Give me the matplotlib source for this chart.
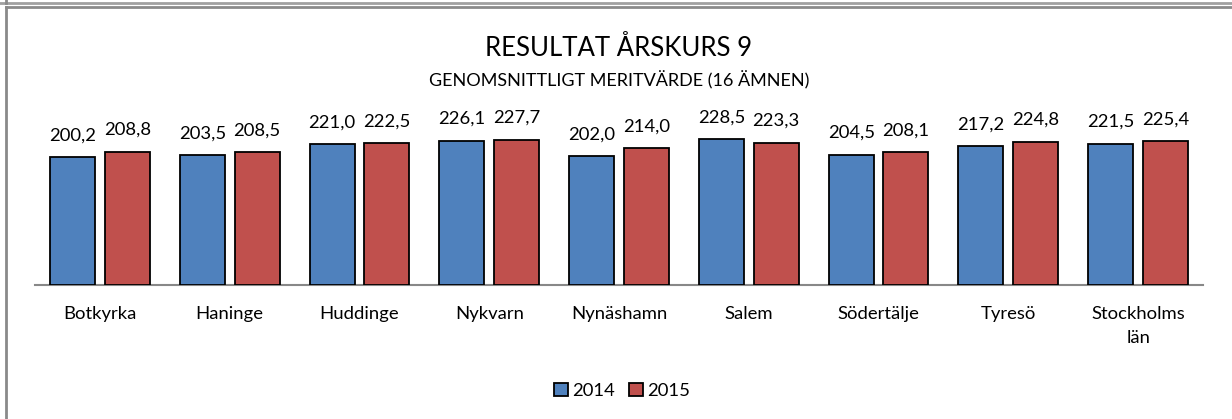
import matplotlib
matplotlib.use("Agg")
import matplotlib.pyplot as plt
from matplotlib.lines import Line2D
from matplotlib.patches import Patch
import numpy as np

categories = ["Botkyrka", "Haninge", "Huddinge", "Nykvarn", "Nynäshamn",
              "Salem", "Södertälje", "Tyresö", "Stockholms\nlän"]
values_2014 = [200.2, 203.5, 221.0, 226.1, 202.0, 228.5, 204.5, 217.2, 221.5]
values_2015 = [208.8, 208.5, 222.5, 227.7, 214.0, 223.3, 208.1, 224.8, 225.4]
series_names = ["2014", "2015"]
title = "RESULTAT ÅRSKURS 9"
subtitle = "GENOMSNITTLIGT MERITVÄRDE (16 ÄMNEN)"

plt.rcParams['font.family'] = ['Lato', 'DejaVu Sans']

W, H = 1232, 419
fig = plt.figure(figsize=(W / 100, H / 100), dpi=100)
fig.patch.set_facecolor("white")

def fx(px):
    return px / W

def fy(py):
    return 1 - py / H

ax_left, ax_right, ax_top, ax_bottom = 35, 1203, 125.5, 285
ax = fig.add_axes([fx(ax_left), fy(ax_bottom), fx(ax_right - ax_left),
                   (ax_bottom - ax_top) / H])

x = np.arange(len(categories)) + 0.5
bw = 0.346
off = 0.211
c1, c2 = "#4F81BD", "#C0504D"
b1 = ax.bar(x - off, values_2014, bw, color=c1, edgecolor="black", linewidth=1.3, zorder=3)
b2 = ax.bar(x + off, values_2015, bw, color=c2, edgecolor="black", linewidth=1.3, zorder=3)

def fmt(v):
    return f"{v:.1f}".replace(".", ",")

for bars, vals in ((b1, values_2014), (b2, values_2015)):
    for r, v in zip(bars, vals):
        ax.annotate(fmt(v), (r.get_x() + r.get_width() / 2, v),
                    xytext=(0, 12), textcoords="offset points",
                    ha="center", va="baseline", fontsize=13.3, color="black")

ax.set_xlim(0, len(categories))
ax.set_ylim(0, 250)
ax.set_yticks([])
ax.set_xticks(x)
ax.set_xticklabels(categories, fontsize=13.3, linespacing=1.65)
ax.tick_params(axis="x", length=0, pad=15)
for s in ("top", "right", "left"):
    ax.spines[s].set_visible(False)
ax.spines["bottom"].set_color("#888888")
ax.spines["bottom"].set_linewidth(1.5)
ax.patch.set_alpha(0)

fig.text(fx(619), fy(48), title, ha="center", va="center", fontsize=18.5)
fig.text(fx(619), fy(80), subtitle, ha="center", va="center", fontsize=13)

handles = [Patch(facecolor=c1, edgecolor="black", linewidth=1.3),
           Patch(facecolor=c2, edgecolor="black", linewidth=1.3)]
fig.legend(handles, series_names, loc="center", bbox_to_anchor=(fx(622), fy(391)),
           ncol=2, frameon=False, fontsize=13.3, handlelength=0.75, handleheight=0.75,
           handletextpad=0.2, columnspacing=0.8)

# frame
gc = "#8a8a8a"
fig.add_artist(Line2D([0, 1], [fy(3), fy(3)], color="#a0a0a0", linewidth=2.0))
fig.add_artist(Line2D([fx(6), 1], [fy(7), fy(7)], color=gc, linewidth=2.0))
fig.add_artist(Line2D([fx(6), fx(6)], [fy(7), 0], color=gc, linewidth=2.0))
fig.add_artist(Line2D([fx(6), fx(6)], [fy(3), 1], color=gc, linewidth=2.0))

fig.savefig("out.png", dpi=100)
